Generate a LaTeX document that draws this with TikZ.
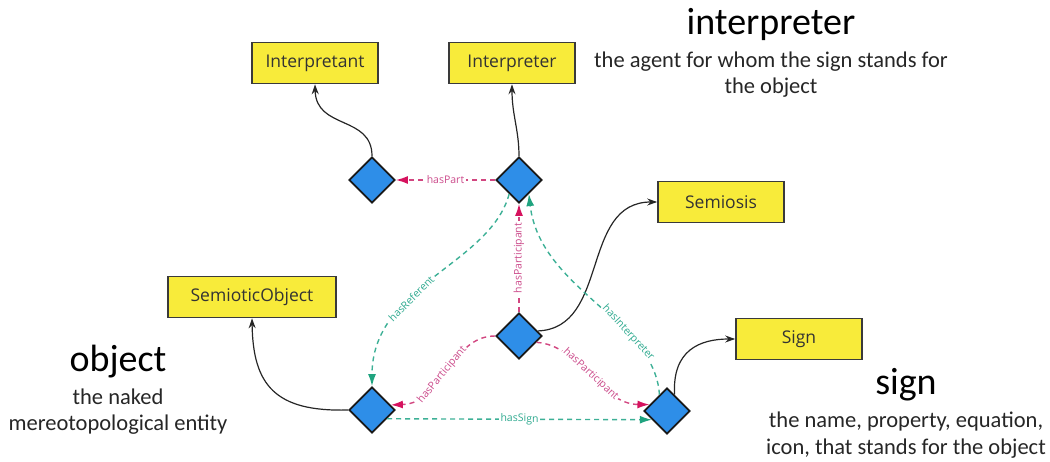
\documentclass[tikz,border=0pt]{standalone}
\usepackage{fontspec}
\setmainfont{Open Sans}
\newfontfamily\notefont{Carlito}
\usetikzlibrary{arrows.meta,shapes.geometric}

\definecolor{boxfill}{HTML}{F8EB3A}
\definecolor{boxline}{HTML}{3A3A3A}
\definecolor{dfill}{HTML}{2E8EE8}
\definecolor{partline}{HTML}{D24680}
\definecolor{parttip}{HTML}{D6125E}
\definecolor{parttext}{HTML}{CC4C8C}
\definecolor{refline}{HTML}{3DB096}
\definecolor{reftip}{HTML}{1FA37F}
\definecolor{reftext}{HTML}{2FAA90}

\tikzset{
  classbox/.style={draw=boxline, line width=1.6pt, fill=boxfill,
    minimum width=126pt, minimum height=41pt, inner sep=0pt,
    text=black!80, font=\fontsize{17.5}{20}\selectfont},
  relnode/.style={diamond, draw=black!90, line width=1.8pt, fill=dfill,
    minimum width=46pt, minimum height=46pt, inner sep=0pt},
  typelink/.style={draw=black!85, line width=1.2pt,
    -{Stealth[length=10pt,width=7pt]}},
  partrel/.style={draw=partline, line width=1.4pt,
    dash pattern=on 5pt off 4pt,
    -{Latex[length=12pt,width=8pt,color=parttip]}},
  refrel/.style={draw=refline, line width=1.4pt,
    dash pattern=on 5pt off 4pt,
    -{Latex[length=12pt,width=8pt,color=reftip]}},
  plabel/.style={fill=white, inner sep=1.5pt, text=parttext, sloped,
    font=\fontsize{10.5}{12}\selectfont},
  rlabel/.style={fill=white, inner sep=1.5pt, text=reftext, sloped,
    font=\fontsize{10.5}{12}\selectfont},
  bigtitle/.style={anchor=base, text=black, font={\notefont\fontsize{38}{40}\selectfont}},
  notetext/.style={anchor=base, text=black!85, font={\notefont\fontsize{22.5}{26}\selectfont}},
}

\begin{document}
\begin{tikzpicture}[x=1pt,y=-1pt]
\useasboundingbox (0,0) rectangle (1050,462);

% classes
\node[classbox] (interpretant) at (315,63) {Interpretant};
\node[classbox] (interpreter) at (512,63) {Interpreter};
\node[classbox] (semiosis) at (721,202) {Semiosis};
\node[classbox, minimum width=168pt] (semobj) at (252,297) {SemioticObject};
\node[classbox] (sign) at (799,339) {Sign};

% relation nodes
\node[relnode] (dpart) at (372,180) {};
\node[relnode] (dinterp) at (519,180) {};
\node[relnode] (dsemiosis) at (519,336) {};
\node[relnode] (dobj) at (372,410) {};
\node[relnode] (dsign) at (667,411) {};

% type links
\draw[typelink] (dpart.north) .. controls (372,115) and (316,130) .. (interpretant.south);
\draw[typelink] (dinterp.north) .. controls (519,130) and (512,115) .. (interpreter.south);
\draw[typelink] (dsemiosis.15) .. controls (610,328) and (580,202) .. (semiosis.west);
\draw[typelink] (dobj.west) .. controls (275,412) and (253,385) .. (semobj.south);
\draw[typelink] (dsign.65) .. controls (672,350) and (700,339) .. (sign.west);

% properties
\draw[partrel] (dinterp.west) -- node[plabel]{hasPart} (dpart.east);
\draw[partrel] (dsemiosis.north) -- node[plabel]{hasParticipant} (dinterp.south);
\draw[refrel] (dinterp.235) .. controls (490,265) and (372,285) ..
  node[rlabel,pos=0.62]{hasReferent} (dobj.north);
\draw[refrel] (dsign.115) .. controls (655,320) and (540,290) ..
  node[rlabel,pos=0.32]{hasInterpreter} (dinterp.305);
\draw[partrel] (dsemiosis.west) .. controls (450,336) and (445,403) ..
  node[plabel,pos=0.55]{hasParticipant} (dobj.15);
\draw[partrel] (dsemiosis.-20) .. controls (580,345) and (600,404) ..
  node[plabel,pos=0.5]{hasParticipant} (dsign.160);
\draw[refrel] (dobj.330) -- node[rlabel]{hasSign} (dsign.210);

% annotations
\node[bigtitle] (tinterp) at (771,35) {interpreter};
\node[notetext] (ninterp1) at (771,68) {the agent for whom the sign stands for};
\node[notetext] (ninterp2) at (771,94) {the object};

\node[bigtitle] (tobj) at (118,372) {object};
\node[notetext] (nobj1) at (118,405) {the naked};
\node[notetext] (nobj2) at (118,430) {mereotopological entity};

\node[bigtitle] (tsign) at (906,395) {sign};
\node[notetext] (nsign1) at (906,427) {the name, property, equation,};
\node[notetext] (nsign2) at (906,454) {icon, that stands for the object};
\end{tikzpicture}
\end{document}
